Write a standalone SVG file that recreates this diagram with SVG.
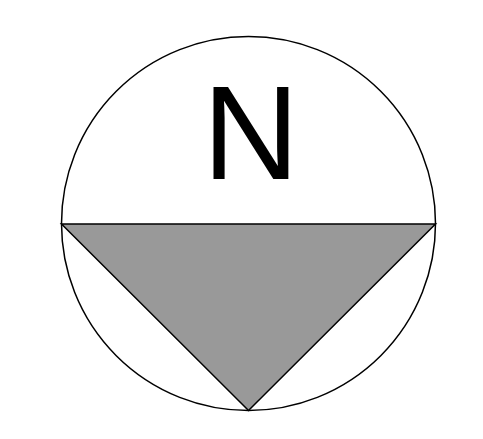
<svg xmlns="http://www.w3.org/2000/svg" width="483" height="439" viewBox="0 0 483 439">
<style>
.outline{fill:none;stroke:#000;stroke-width:1.5}
.arrow{fill:#999;stroke:#000;stroke-width:1.5;stroke-linejoin:miter}
.label{font-family:"Liberation Sans",Arial,sans-serif;font-size:134px;fill:#000}
</style>
<rect width="483" height="439" fill="#fff"/>
<g id="compass">
<circle class="outline" cx="248.5" cy="223.5" r="187"/>
</g>
<g id="arrow">
<polygon class="arrow" points="61.5,224 435.5,224 248.5,410.5"/>
</g>
<g id="north-label">
<text class="label" x="251" y="179" text-anchor="middle">N</text>
</g>
</svg>
